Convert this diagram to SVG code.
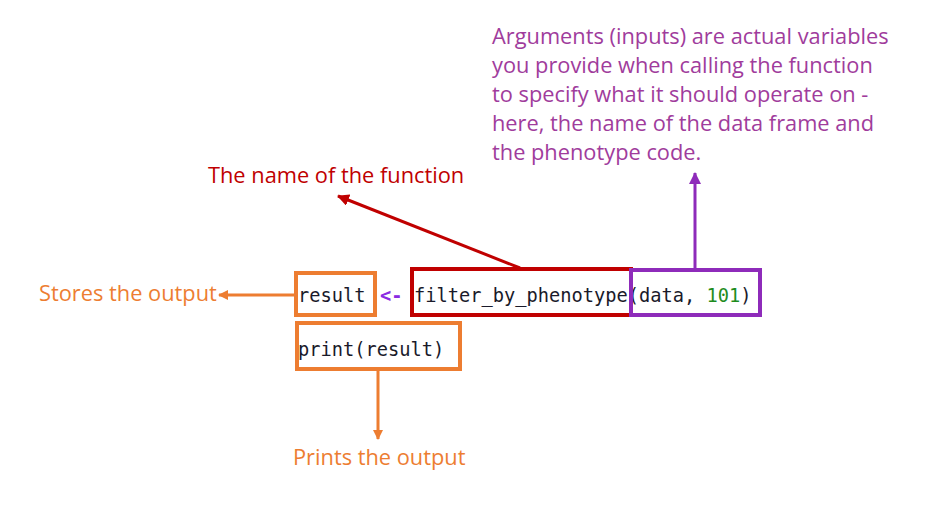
<svg xmlns="http://www.w3.org/2000/svg" width="950" height="520" viewBox="0 0 950 520">
<style>
.code{font-family:"DejaVu Sans Mono",monospace;font-size:18.7px;fill:#1a1a2a}
.lbl{font-family:"Open Sans","Liberation Sans",sans-serif;font-size:21.8px}
.box{fill:none;stroke-width:4}
</style>
<defs>
<marker id="ao" markerWidth="10" markerHeight="10" refX="9" refY="5" orient="auto" markerUnits="userSpaceOnUse"><path d="M0,0L10,5L0,10z" fill="#ED7D31"/></marker>
<marker id="ar" markerWidth="12" markerHeight="12" refX="11" refY="6" orient="auto" markerUnits="userSpaceOnUse"><path d="M0,0L12,6L0,12z" fill="#C00000"/></marker>
<marker id="ap" markerWidth="12" markerHeight="12" refX="11" refY="6" orient="auto" markerUnits="userSpaceOnUse"><path d="M0,0L12,6L0,12z" fill="#8E2BBA"/></marker>
</defs>
<rect width="950" height="520" fill="#fff"/>
<g id="code">
<text class="code" x="298" y="302">result</text>
<text class="code" x="380" y="302" style="fill:#8A2BE2;font-weight:bold">&lt;-</text>
<text class="code" x="414" y="302">filter_by_phenotype(data, <tspan style="fill:#1E8C1E">101</tspan>)</text>
<text class="code" x="298" y="356">print(result)</text>
</g>
<g id="result-box"><rect class="box" x="296" y="273" width="79" height="42" stroke="#ED7D31"/></g>
<g id="func-box"><rect class="box" x="412" y="269" width="219" height="46" stroke="#C00000"/></g>
<g id="args-box"><rect class="box" x="631" y="270" width="129" height="45" stroke="#8E2BBA"/></g>
<g id="print-box"><rect class="box" x="297" y="323" width="163" height="46" stroke="#ED7D31"/></g>
<g id="connectors" stroke-width="3" fill="none">
<line x1="296" y1="295" x2="219" y2="295" stroke="#ED7D31" marker-end="url(#ao)"/>
<line x1="520" y1="268" x2="338" y2="196" stroke="#C00000" marker-end="url(#ar)"/>
<line x1="695" y1="269" x2="695" y2="173" stroke="#8E2BBA" marker-end="url(#ap)"/>
<line x1="378" y1="370" x2="378" y2="439" stroke="#ED7D31" marker-end="url(#ao)"/>
</g>
<g id="labels">
<text class="lbl" x="39" y="301" fill="#ED7D31">Stores the output</text>
<text class="lbl" x="208" y="183" fill="#C00000">The name of the function</text>
<text class="lbl" x="293" y="465" fill="#ED7D31">Prints the output</text>
<text class="lbl" fill="#A03C9C"><tspan x="492" y="44">Arguments (inputs) are actual variables</tspan><tspan x="492" y="73">you provide when calling the function</tspan><tspan x="492" y="102">to specify what it should operate on -</tspan><tspan x="492" y="131">here, the name of the data frame and</tspan><tspan x="492" y="160">the phenotype code.</tspan></text>
</g>
</svg>
